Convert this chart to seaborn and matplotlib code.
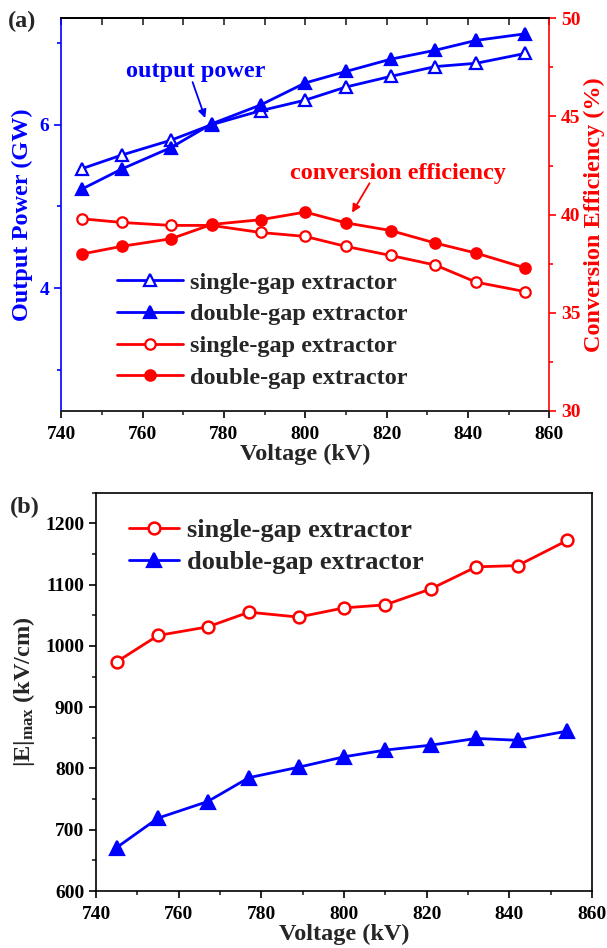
import numpy as np
import pandas as pd
import matplotlib
matplotlib.use("Agg")
import matplotlib.pyplot as plt
from matplotlib.ticker import MultipleLocator
from matplotlib.lines import Line2D
import seaborn as sns

# ---------------- data ----------------
voltage = [745, 755, 767, 777, 789, 800, 810, 821, 832, 842, 854]
power_single = [5.46, 5.63, 5.81, 6.00, 6.17, 6.30, 6.46, 6.59, 6.71, 6.75, 6.87]
power_double = [5.21, 5.46, 5.72, 6.01, 6.24, 6.51, 6.65, 6.80, 6.91, 7.03, 7.11]
eff_single = [39.79, 39.60, 39.45, 39.45, 39.09, 38.89, 38.38, 37.92, 37.43, 36.56, 36.08]
eff_double = [37.99, 38.39, 38.77, 39.50, 39.74, 40.13, 39.58, 39.19, 38.55, 38.04, 37.29]
emax_single = [974, 1017, 1031, 1055, 1047, 1062, 1067, 1093, 1129, 1131, 1172]
emax_double = [671, 719, 746, 785, 802, 819, 830, 838, 849, 846, 861]
series_labels = ["single-gap extractor", "double-gap extractor"]

BLUE = "#0000FF"
RED = "#FF0000"

sns.set_style("ticks")
plt.rcParams["font.family"] = ["Liberation Serif", "DejaVu Serif"]
plt.rcParams["font.weight"] = "bold"
plt.rcParams["axes.labelweight"] = "bold"
plt.rcParams["mathtext.fontset"] = "custom"
plt.rcParams["mathtext.rm"] = "Liberation Serif:bold"
plt.rcParams["mathtext.it"] = "Liberation Serif:bold"
plt.rcParams["mathtext.bf"] = "Liberation Serif:bold"

TICK_FS = 14
LABEL_FS = 17.5

fig = plt.figure(figsize=(6.07, 9.48), dpi=100)

# ================= panel (a) =================
ax1 = fig.add_axes([0.1008, 0.5665, 0.8042, 0.4142])
ax2 = ax1.twinx()

df_a = pd.DataFrame({"V": voltage, "ps": power_single, "pd": power_double,
                     "es": eff_single, "ed": eff_double})

lw = 2.0
sns.lineplot(data=df_a, x="V", y="ps", ax=ax1, color=BLUE, lw=lw, marker="^",
             markersize=8.5, markerfacecolor="white", markeredgecolor=BLUE,
             markeredgewidth=1.6)
sns.lineplot(data=df_a, x="V", y="pd", ax=ax1, color=BLUE, lw=lw, marker="^",
             markersize=8.5, markerfacecolor=BLUE, markeredgecolor=BLUE,
             markeredgewidth=1.6)
sns.lineplot(data=df_a, x="V", y="es", ax=ax2, color=RED, lw=lw, marker="o",
             markersize=7.5, markerfacecolor="white", markeredgecolor=RED,
             markeredgewidth=1.6)
sns.lineplot(data=df_a, x="V", y="ed", ax=ax2, color=RED, lw=lw, marker="o",
             markersize=7.5, markerfacecolor=RED, markeredgecolor=RED,
             markeredgewidth=1.6)
for a in (ax1, ax2):
    if a.get_legend() is not None:
        a.get_legend().remove()

ax1.set_xlim(740, 860)
ax1.set_ylim(2.5, 7.3)
ax2.set_ylim(30, 50)
ax1.xaxis.set_major_locator(MultipleLocator(20))
ax1.xaxis.set_minor_locator(MultipleLocator(10))
ax1.yaxis.set_major_locator(MultipleLocator(2))
ax1.yaxis.set_minor_locator(MultipleLocator(1))
ax2.yaxis.set_major_locator(MultipleLocator(5))
ax2.yaxis.set_minor_locator(MultipleLocator(2.5))

for sp in ax1.spines.values():
    sp.set_linewidth(1.2)
for sp in ax2.spines.values():
    sp.set_linewidth(1.2)
ax1.spines["left"].set_color(BLUE)
ax2.spines["left"].set_visible(False)
ax1.spines["right"].set_visible(False)
ax2.spines["right"].set_color(RED)
ax1.spines["top"].set_color("black")
ax2.spines["top"].set_color("black")

ax1.tick_params(axis="x", which="major", direction="out", length=5, width=1.2,
                labelsize=TICK_FS, colors="black", pad=6)
ax1.tick_params(axis="x", which="minor", direction="out", length=3, width=1.2)
ax1.tick_params(axis="y", which="major", direction="out", length=5, width=1.2,
                labelsize=TICK_FS, colors=BLUE)
ax1.tick_params(axis="y", which="minor", direction="out", length=3, width=1.2,
                colors=BLUE)
ax2.tick_params(axis="y", which="major", direction="out", length=5, width=1.2,
                labelsize=TICK_FS, colors=RED)
ax2.tick_params(axis="y", which="minor", direction="out", length=3, width=1.2,
                colors=RED)

secx = ax1.secondary_xaxis("top")
secx.xaxis.set_major_locator(MultipleLocator(10))
secx.tick_params(axis="x", which="both", direction="in", length=5, width=1.2,
                 labeltop=False)
secx.spines["top"].set_linewidth(1.2)

ax1.set_xlabel("Voltage (kV)", fontsize=LABEL_FS)
ax1.set_ylabel("Output Power (GW)", fontsize=LABEL_FS, color=BLUE)
ax2.set_ylabel("Conversion Efficiency (%)", fontsize=LABEL_FS, color=RED)
ax1.xaxis.set_label_coords(0.5, -0.084)
ax1.yaxis.set_label_coords(-0.058, 0.5)
ax2.yaxis.set_label_coords(1.070, 0.5)

# annotations
ax1.text(773, 6.65, "output power", color=BLUE, fontsize=LABEL_FS,
         ha="center", va="center")
ax1.annotate("", xy=(775.4, 6.08), xytext=(772.3, 6.52),
             arrowprops=dict(arrowstyle="-|>", color=BLUE, lw=1.3,
                             mutation_scale=12, shrinkA=0, shrinkB=0))
ax2.text(822.9, 42.1, "conversion efficiency", color=RED, fontsize=LABEL_FS,
         ha="center", va="center")
ax2.annotate("", xy=(811.5, 40.1), xytext=(815.8, 41.6),
             arrowprops=dict(arrowstyle="-|>", color=RED, lw=1.3,
                             mutation_scale=12, shrinkA=0, shrinkB=0))

handles_a = [
    Line2D([], [], color=BLUE, lw=lw, marker="^", markersize=8.5,
           markerfacecolor="white", markeredgecolor=BLUE, markeredgewidth=1.6),
    Line2D([], [], color=BLUE, lw=lw, marker="^", markersize=8.5,
           markerfacecolor=BLUE, markeredgecolor=BLUE, markeredgewidth=1.6),
    Line2D([], [], color=RED, lw=lw, marker="o", markersize=7.5,
           markerfacecolor="white", markeredgecolor=RED, markeredgewidth=1.6),
    Line2D([], [], color=RED, lw=lw, marker="o", markersize=7.5,
           markerfacecolor=RED, markeredgecolor=RED, markeredgewidth=1.6),
]
leg_a = ax2.legend(handles_a, series_labels * 2, loc="center left",
                   bbox_to_anchor=(0.1145, 0.2057), frameon=False,
                   fontsize=LABEL_FS, handlelength=2.7, handletextpad=0.3,
                   labelspacing=0.4, borderpad=0, borderaxespad=0)

fig.text(0.036, 0.977, "(a)", fontsize=LABEL_FS, ha="center", va="center")

# ================= panel (b) =================
ax3 = fig.add_axes([0.1582, 0.0601, 0.8171, 0.4202])
df_b = pd.DataFrame({"V": voltage, "es": emax_single, "ed": emax_double})
sns.lineplot(data=df_b, x="V", y="es", ax=ax3, color=RED, lw=lw, marker="o",
             markersize=8.5, markerfacecolor="white", markeredgecolor=RED,
             markeredgewidth=1.8)
sns.lineplot(data=df_b, x="V", y="ed", ax=ax3, color=BLUE, lw=lw, marker="^",
             markersize=10, markerfacecolor=BLUE, markeredgecolor=BLUE,
             markeredgewidth=1.6)
if ax3.get_legend() is not None:
    ax3.get_legend().remove()

ax3.set_xlim(740, 860)
ax3.set_ylim(600, 1250)
ax3.xaxis.set_major_locator(MultipleLocator(20))
ax3.xaxis.set_minor_locator(MultipleLocator(10))
ax3.yaxis.set_major_locator(MultipleLocator(100))
ax3.yaxis.set_minor_locator(MultipleLocator(50))
for sp in ax3.spines.values():
    sp.set_linewidth(1.2)
    sp.set_color("black")
ax3.tick_params(axis="both", which="major", direction="out", length=5, width=1.2,
                labelsize=TICK_FS, colors="black")
ax3.tick_params(axis="x", which="major", pad=6)
ax3.tick_params(axis="both", which="minor", direction="out", length=3, width=1.2)

ax3.set_xlabel("Voltage (kV)", fontsize=LABEL_FS)
ax3.set_ylabel(r"|E|$_{\rm max}$ (kV/cm)", fontsize=LABEL_FS)
ax3.xaxis.set_label_coords(0.5, -0.083)
ax3.yaxis.set_label_coords(-0.119, 0.5)

handles_b = [
    Line2D([], [], color=RED, lw=lw, marker="o", markersize=8.5,
           markerfacecolor="white", markeredgecolor=RED, markeredgewidth=1.8),
    Line2D([], [], color=BLUE, lw=lw, marker="^", markersize=10,
           markerfacecolor=BLUE, markeredgecolor=BLUE, markeredgewidth=1.6),
]
ax3.legend(handles_b, series_labels, loc="center left",
           bbox_to_anchor=(0.0666, 0.8646), frameon=False, fontsize=19,
           handlelength=1.9, handletextpad=0.3, labelspacing=0.32,
           borderpad=0, borderaxespad=0)

fig.text(0.041, 0.465, "(b)", fontsize=LABEL_FS, ha="center", va="center")

fig.savefig("out.png", dpi=100)
